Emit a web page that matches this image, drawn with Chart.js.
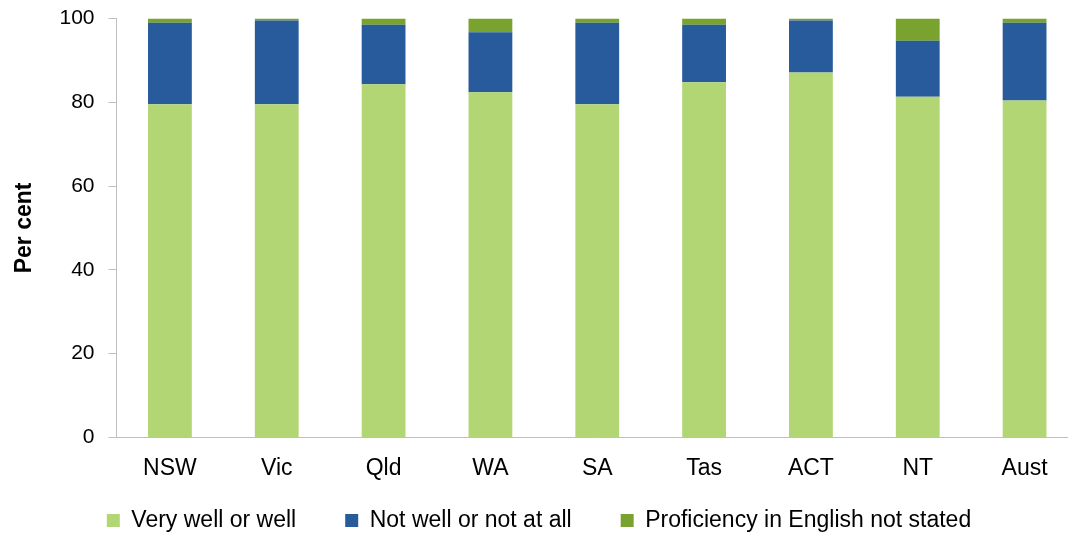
<!DOCTYPE html>
<html>
<head>
<meta charset="utf-8">
<script src="https://cdn.jsdelivr.net/npm/chart.js@4/dist/chart.umd.min.js"></script>
<style>
  html, body { margin: 0; padding: 0; overflow: hidden; background: #fff; }
  #wrap { position: absolute; left: 0; top: 0; width: 1078px; height: 533px; }
</style>
</head>
<body>
<div id="wrap"><canvas id="c" width="1078" height="533"></canvas></div>
<script>
const categories = ['NSW', 'Vic', 'Qld', 'WA', 'SA', 'Tas', 'ACT', 'NT', 'Aust'];
const veryWellOrWell = [79.5, 79.5, 84.3, 82.4, 79.5, 84.8, 87.1, 81.3, 80.4];
const notWellOrNotAtAll = [19.5, 20.0, 14.2, 14.3, 19.5, 13.7, 12.4, 13.4, 18.6];
const notStated = [1.0, 0.5, 1.5, 3.3, 1.0, 1.5, 0.5, 5.3, 1.0];
const seriesNames = ['Very well or well', 'Not well or not at all', 'Proficiency in English not stated'];
const yTicks = [0, 20, 40, 60, 80, 100];

const axisColor = '#bfbfbf';
const legendShift = {
  id: 'legendShift',
  afterLayout(chart) {
    const lg = chart.legend;
    if (lg) { lg.top -= 39; lg.bottom -= 39; }
  }
};
const ctx = document.getElementById('c');
new Chart(ctx, {
  type: 'bar',
  data: {
    labels: categories,
    datasets: [
      { label: seriesNames[0], data: veryWellOrWell, backgroundColor: '#b3d675' },
      { label: seriesNames[1], data: notWellOrNotAtAll, backgroundColor: '#275b9b' },
      { label: seriesNames[2], data: notStated, backgroundColor: '#79a22f' }
    ]
  },
  plugins: [legendShift],
  options: {
    responsive: false,
    animation: false,
    devicePixelRatio: 1,
    layout: { padding: { top: 18.5, right: 0, left: 0, bottom: -48 } },
    datasets: { bar: { categoryPercentage: 1, barPercentage: 0.41 } },
    plugins: {
      tooltip: { enabled: false },
      legend: {
        position: 'bottom',
        labels: {
          boxWidth: 13, boxHeight: 13, padding: 49,
          color: '#000',
          font: { family: 'Liberation Sans, Arial, sans-serif', size: 23 }
        }
      }
    },
    scales: {
      x: {
        stacked: true,
        afterFit: s => { s.paddingLeft = 0; s.paddingRight = 0; },
        grid: { display: false, drawTicks: false },
        border: { display: true, color: axisColor, width: 1 },
        ticks: { color: '#000', padding: 17, autoSkip: false, maxRotation: 0, font: { family: 'Liberation Sans, Arial, sans-serif', size: 23 } }
      },
      y: {
        stacked: true,
        min: 0, max: 100,
        afterBuildTicks: s => { s.ticks = yTicks.map(v => ({ value: v })); },
        afterFit: s => { s.width = 116.5; s.paddingTop = 0; s.paddingBottom = 0; },
        grid: { display: true, drawOnChartArea: false, drawTicks: true, tickLength: 8, color: axisColor },
        border: { display: true, color: axisColor, width: 1 },
        ticks: { color: '#000', padding: 14, font: { family: 'Liberation Sans, Arial, sans-serif', size: 21 } },
        title: {
          display: true, text: 'Per cent', color: '#000',
          padding: { top: 11, bottom: 0 },
          font: { family: 'Liberation Sans, Arial, sans-serif', size: 23, weight: 'bold' }
        }
      }
    }
  }
});
</script>
</body>
</html>
